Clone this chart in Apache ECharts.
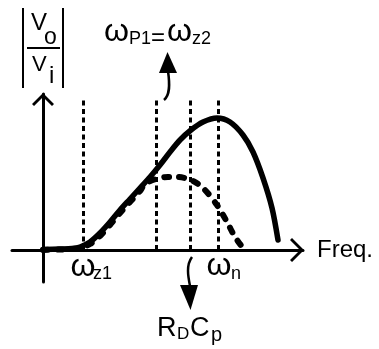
<!DOCTYPE html>
<html>
<head>
<meta charset="utf-8">
<script src="https://cdn.jsdelivr.net/npm/echarts@6/dist/echarts.min.js"></script>
<style>
  html, body { margin: 0; padding: 0; background: #fff; }
  #chart { width: 379px; height: 349px; }
</style>
</head>
<body>
<div id="chart"></div>
<script>
// |Vo/Vi| against frequency, arbitrary units
const responseFreq = [0, 1.7, 2.9, 3.7, 4.7, 5.7, 6.7, 7.7, 8.7, 9.7, 10.7, 11.7, 12.7, 13.7, 14.8, 16.0, 17.4, 18.7, 20.0, 21.0, 22.0, 22.9, 23.5];
const responseGain = [0.05, 0.1, 0.15, 0.3, 0.8, 1.7, 2.8, 4.0, 5.1, 6.2, 7.3, 8.5, 9.8, 11.0, 12.0, 12.8, 13.2, 12.8, 11.5, 9.8, 7.2, 4.2, 1.0];
const dampedFreq = [0, 1.7, 2.9, 3.7, 4.7, 5.7, 6.7, 7.7, 8.7, 9.7, 10.2, 11.3, 12.5, 13.4, 14.8, 16.0, 17.4, 18.4, 19.2, 20.0];
const dampedGain = [0, 0.05, 0.1, 0.2, 0.6, 1.4, 2.5, 3.7, 4.8, 5.9, 6.6, 7.1, 7.3, 7.3, 7.0, 6.2, 4.5, 2.8, 1.3, 0.2];
// characteristic frequencies: ωz1, ωP1=ωz2, RDCp, ωn
const guideFreq = [4.0, 11.3, 14.7, 17.5];
const guideTop = 15.0;

const FONT = '"Liberation Sans", Arial, sans-serif';
const pairs = (xs, ys) => xs.map((x, i) => [x, ys[i]]);

const chart = echarts.init(document.getElementById('chart'), null, { renderer: 'canvas' });

const chevronX = 'path://M12,0 L24,12 L22,14 L12,4 L2,14 L0,12 Z';
const chevronY = 'path://M11,0 L22,11 L20,13 L11,4 L2,13 L0,11 Z';

chart.setOption({
  animation: false,
  backgroundColor: '#fff',
  grid: { left: 12, right: 76, top: 94, bottom: 67 },
  xAxis: {
    type: 'value', min: -3.1, max: 26.0,
    axisLine: {
      onZero: true,
      symbol: ['none', chevronX], symbolSize: [24, 14], symbolOffset: [0, -6],
      lineStyle: { color: '#000', width: 3 }
    },
    axisTick: { show: false }, axisLabel: { show: false }, splitLine: { show: false }
  },
  yAxis: {
    type: 'value', min: -3.2, max: 15.6,
    axisLine: {
      onZero: true,
      symbol: ['none', chevronY], symbolSize: [22, 13], symbolOffset: [0, -5.5],
      lineStyle: { color: '#000', width: 3 }
    },
    axisTick: { show: false }, axisLabel: { show: false }, splitLine: { show: false }
  },
  series: [
    {
      type: 'line',
      data: pairs(responseFreq, responseGain),
      smooth: 0.3, symbol: 'none', silent: true,
      lineStyle: { color: '#000', width: 5.5, cap: 'round', join: 'round' },
      z: 3,
      markLine: {
        silent: true, symbol: ['none', 'none'], label: { show: false },
        lineStyle: { color: '#000', width: 3, type: [5, 3.5] },
        data: guideFreq.map(f => [{ coord: [f, 0] }, { coord: [f, guideTop] }])
      }
    },
    {
      type: 'line',
      data: pairs(dampedFreq, dampedGain),
      smooth: 0.3, symbol: 'none', silent: true,
      lineStyle: { color: '#000', width: 6, type: [5, 10], cap: 'round', join: 'round' },
      z: 4
    }
  ]
});

const gx = v => chart.convertToPixel({ xAxisIndex: 0 }, v);

function txt(str, x, y, size, align) {
  return {
    type: 'text', x: x, y: y, silent: true, z: 10,
    style: {
      text: str, fill: '#000', font: size + 'px ' + FONT,
      align: align || 'left', verticalAlign: 'middle',
      textAlign: align || 'left', textVerticalAlign: 'middle'
    }
  };
}
const seg = (x1, y1, x2, y2, w) => ({
  type: 'line', silent: true, z: 10,
  shape: { x1, y1, x2, y2 }, style: { stroke: '#000', lineWidth: w }
});

const z1 = gx(guideFreq[0]);
const wn = gx(guideFreq[3]);

chart.setOption({
  graphic: [
    // |Vo / Vi| label
    seg(23, 8, 23, 88, 2),
    seg(63, 8, 63, 88, 2),
    seg(27, 48, 60, 48, 2),
    txt('V', 31, 23.7, 24),
    txt('o', 44, 37.5, 23),
    txt('V', 32, 64.5, 22),
    txt('i', 49, 76.5, 24),
    // ωP1 = ωz2
    txt('ω', 104, 31.9, 32),
    txt('P1', 129, 38.8, 18),
    txt('=', 151, 38.5, 24),
    txt('ω', 167, 31.9, 32),
    txt('z2', 192, 38.8, 18),
    {
      type: 'bezierCurve', silent: true, z: 10,
      shape: { x1: 168, y1: 71, cpx1: 170, cpy1: 85, cpx2: 170, cpy2: 95, x2: 164, y2: 100 },
      style: { stroke: '#000', lineWidth: 2.5, fill: null }
    },
    {
      type: 'polygon', silent: true, z: 10,
      shape: { points: [[159, 73], [177, 73], [167.5, 52]] }, style: { fill: '#000' }
    },
    // frequency markers under the axis
    txt('ω', z1, 266.9, 32, 'center'),
    txt('z1', z1 + 10, 273.8, 18),
    txt('ω', wn + 1, 265.9, 32, 'center'),
    txt('n', wn + 13, 273.8, 18),
    txt('Freq.', 317, 250.7, 24),
    // RDCp
    {
      type: 'bezierCurve', silent: true, z: 10,
      shape: { x1: 192, y1: 257, cpx1: 186, cpy1: 265, cpx2: 188, cpy2: 276, x2: 190, y2: 286 },
      style: { stroke: '#000', lineWidth: 2.5, fill: null }
    },
    {
      type: 'polygon', silent: true, z: 10,
      shape: { points: [[180, 285], [198, 285], [190.5, 310]] }, style: { fill: '#000' }
    },
    txt('R', 157, 328.6, 27),
    txt('D', 177, 334.1, 17),
    txt('C', 190, 328.6, 27),
    txt('p', 211, 335.6, 20)
  ]
});
</script>
</body>
</html>
